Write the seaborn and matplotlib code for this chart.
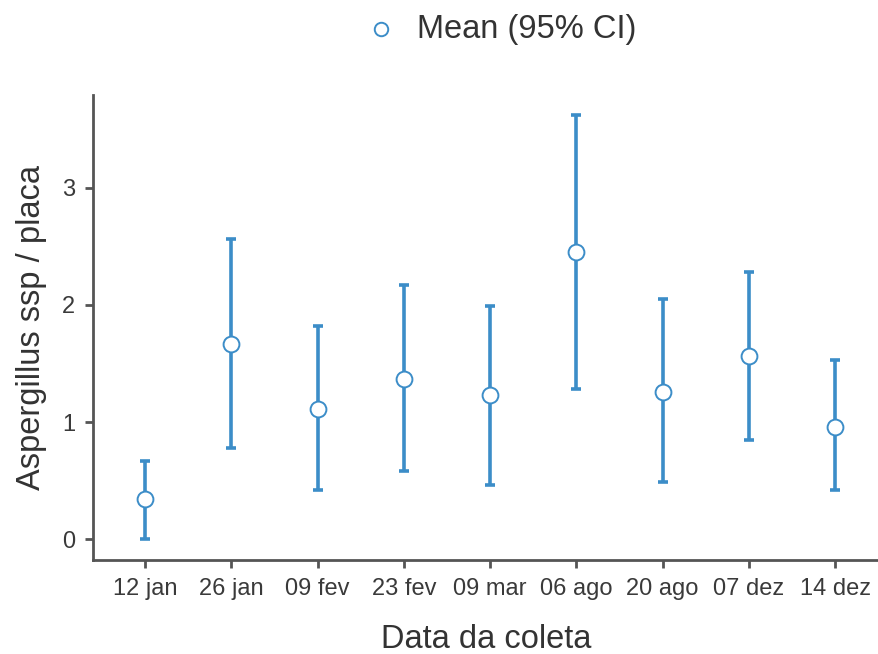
import numpy as np
import pandas as pd
import matplotlib
matplotlib.use("Agg")
import matplotlib.pyplot as plt
import seaborn as sns

# Data
datas = ['12 jan', '26 jan', '09 fev', '23 fev', '09 mar', '06 ago', '20 ago', '07 dez', '14 dez']
medias = [0.34, 1.67, 1.11, 1.37, 1.23, 2.45, 1.26, 1.56, 0.96]
ic_inf = [0.00, 0.78, 0.42, 0.58, 0.46, 1.28, 0.49, 0.85, 0.42]
ic_sup = [0.665, 2.56, 1.82, 2.17, 1.99, 3.62, 2.05, 2.28, 1.53]

df = pd.DataFrame({'data': datas, 'media': medias, 'inf': ic_inf, 'sup': ic_sup})

sns.set_theme(style="ticks")
plt.rcParams['font.family'] = ['Liberation Sans', 'DejaVu Sans']

azul = '#3c8dc8'
cinza = '#333333'

fig = plt.figure(figsize=(8.79, 6.54), dpi=100)
ax = fig.add_axes([0.1058, 0.1437, 0.8942, 0.711])

# 95% CI bars
pos = np.arange(len(df))
ax.errorbar(pos, df['media'],
            yerr=[df['media'] - df['inf'], df['sup'] - df['media']],
            fmt='none', ecolor=azul, elinewidth=2.6, capsize=3.6, capthick=2.6,
            zorder=2)

# Means
sns.scatterplot(data=df, x='data', y='media', ax=ax, marker='o', s=130,
                color='white', edgecolor=azul, linewidth=1.4, zorder=3,
                label='Mean (95% CI)', legend=False)

ax.set_xlim(-0.603, 8.51)
ax.set_ylim(-0.177, 3.79)
ax.set_yticks([0, 1, 2, 3])

ax.set_xlabel('Data da coleta', fontsize=23.5, color=cinza, labelpad=17)
ax.set_ylabel('Aspergillus ssp / placa', fontsize=23.5, color=cinza, labelpad=11)

ax.tick_params(axis='both', labelsize=17, colors='#555555', labelcolor='#3a3a3a',
               length=6, width=2, pad=7)
for lado in ['top', 'right']:
    ax.spines[lado].set_visible(False)
for lado in ['left', 'bottom']:
    ax.spines[lado].set_color('#555555')
    ax.spines[lado].set_linewidth(2)

handles, labels = ax.get_legend_handles_labels()
leg = fig.legend(handles, labels, loc='center', bbox_to_anchor=(0.56, 0.955),
                 frameon=False, fontsize=23.5, handletextpad=0.1, markerscale=0.85)
for t in leg.get_texts():
    t.set_color(cinza)

fig.savefig('out.png', dpi=100)
